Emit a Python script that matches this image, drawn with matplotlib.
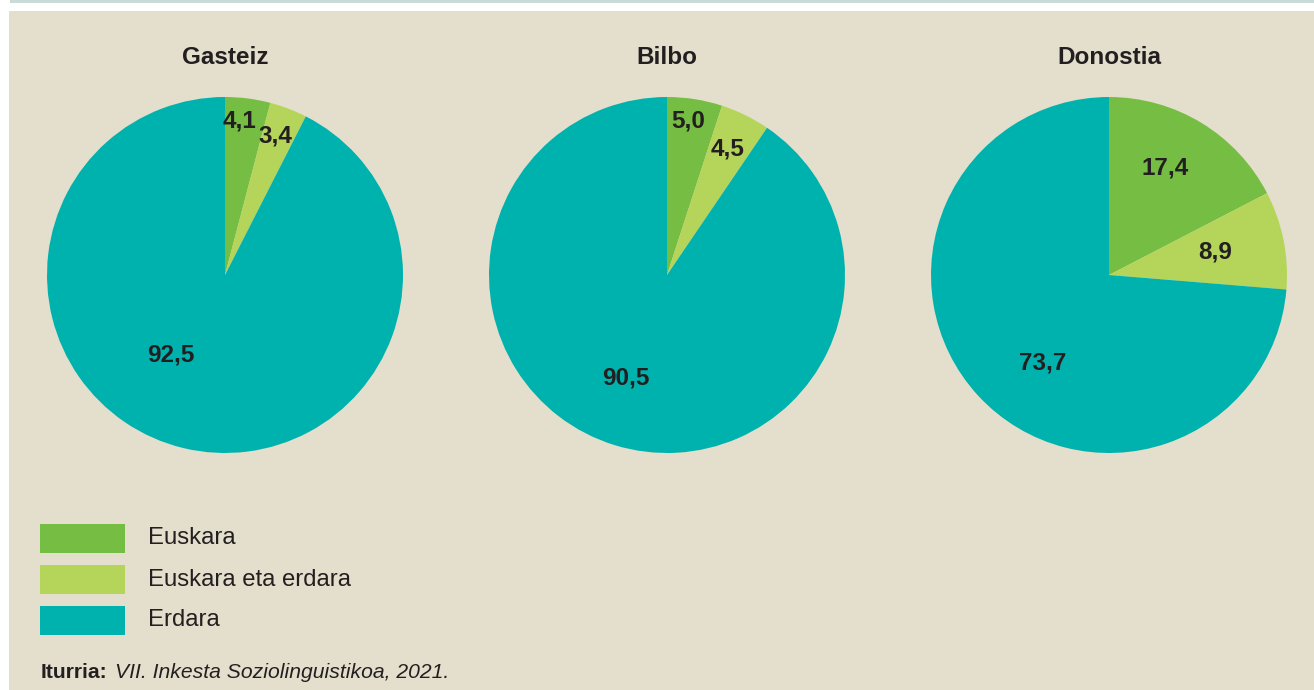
import matplotlib
matplotlib.use("Agg")
import matplotlib.pyplot as plt
from matplotlib.patches import Rectangle

plt.rcParams['font.family'] = ['Liberation Sans', 'DejaVu Sans']

cities = ["Gasteiz", "Bilbo", "Donostia"]
categories = ["Euskara", "Euskara eta erdara", "Erdara"]
euskara = [4.1, 5.0, 17.4]
elebidun = [3.4, 4.5, 8.9]
erdara = [92.5, 90.5, 73.7]
value_labels = [["4,1", "3,4", "92,5"], ["5,0", "4,5", "90,5"], ["17,4", "8,9", "73,7"]]
source_bold = "Iturria:"
source_italic = "VII. Inkesta Soziolinguistikoa, 2021."

colors = ["#76BE43", "#B5D55A", "#00B2AE"]
bg = "#E4DFCC"
txt = "#231F20"

# label offsets within each pie (unit radius)
label_pos = [
    [(0.084, 0.865), (0.281, 0.781), (-0.303, -0.449)],
    [(0.118, 0.865), (0.343, 0.708), (-0.230, -0.579)],
    [(0.315, 0.601), (0.596, 0.129), (-0.371, -0.494)],
]

W, H = 1314, 690
fig = plt.figure(figsize=(W / 100, H / 100), dpi=100)
fig.patch.set_facecolor("white")

# background panel
fig.add_artist(Rectangle((9 / W, 0), 1 - 9 / W, (H - 11) / H, transform=fig.transFigure,
                         facecolor=bg, edgecolor="none", zorder=0))
fig.add_artist(Rectangle((10 / W, (H - 2.5) / H), 1 - 10 / W, 2.5 / H, transform=fig.transFigure,
                         facecolor="#CADAD6", edgecolor="none", zorder=0))

centers_x = [225, 667, 1109]
cy = 275
R = 178
for i, city in enumerate(cities):
    cx = centers_x[i]
    ax = fig.add_axes([(cx - R) / W, (H - cy - R) / H, 2 * R / W, 2 * R / H])
    vals = [euskara[i], elebidun[i], erdara[i]]
    ax.pie(vals, colors=colors, startangle=90, counterclock=False, radius=1,
           wedgeprops=dict(linewidth=0))
    ax.set_xlim(-1, 1)
    ax.set_ylim(-1, 1)
    ax.set_aspect("equal")
    ax.axis("off")
    for lab, (lx, ly) in zip(value_labels[i], label_pos[i]):
        ax.text(lx, ly, lab, ha="center", va="center", fontsize=17.5, fontweight="bold", color=txt)
    fig.text(cx / W, (H - 57) / H, city, ha="center", va="center", fontsize=17.5,
             fontweight="bold", color=txt)

# legend
leg_y = [538.5, 579.5, 620.5]
for cat, col, y in zip(categories, colors, leg_y):
    fig.add_artist(Rectangle((40 / W, (H - y - 14.5) / H), 85 / W, 29 / H,
                             transform=fig.transFigure, facecolor=col, edgecolor="none"))
    fig.text(148 / W, (H - y) / H, cat, ha="left", va="center", fontsize=17.2, color=txt)

fig.text(41 / W, (H - 673) / H, source_bold, ha="left", va="center", fontsize=15.2,
         fontweight="bold", color=txt)
fig.text(115 / W, (H - 673) / H, source_italic, ha="left", va="center", fontsize=15.2,
         style="italic", color=txt)

fig.savefig("out.png", dpi=100, facecolor=fig.get_facecolor())
